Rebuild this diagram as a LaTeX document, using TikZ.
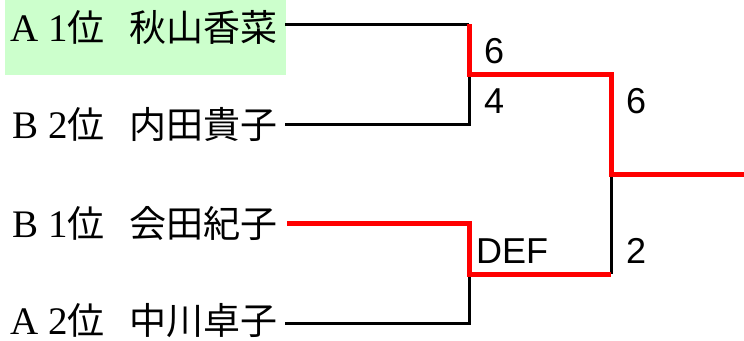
\documentclass[tikz,border=0pt]{standalone}
\usepackage{fontspec}
\setmainfont{Liberation Serif}
\newfontfamily\cjk{Noto Sans CJK JP}
\newfontfamily\scorefamily{Liberation Sans}
\usepackage{tikz}
\definecolor{winred}{RGB}{255,0,0}
\definecolor{seedgreen}{RGB}{204,255,204}
\tikzstyle{player} = [anchor=base east, inner sep=0pt, font=\fontsize{39}{40}\selectfont]
\tikzstyle{score} = [anchor=base west, inner sep=0pt, font=\scorefamily\fontsize{36}{40}\selectfont]
\tikzstyle{line} = [line width=3pt, black]
\tikzstyle{win} = [line width=5pt, winred]
\newcommand{\kanji}{\cjk\fontsize{37}{40}\selectfont}

\begin{document}
\begin{tikzpicture}[x=1pt, y=-1pt]
        \useasboundingbox (0,0) rectangle (744,340);
        \fill [seedgreen] (5,0) rectangle (286,75);

        \node (p1) [player] at (278,41) {A 1\kanji 位\hspace{25pt}秋山香菜};
        \node (p2) [player] at (278,138) {B 2\kanji 位\hspace{25pt}内田貴子};
        \node (p3) [player] at (278,237) {B 1\kanji 位\hspace{25pt}会田紀子};
        \node (p4) [player] at (278,334) {A 2\kanji 位\hspace{25pt}中川卓子};

        \coordinate (t1) at (469,24);
        \coordinate (t2) at (469,124);
        \coordinate (t3) at (469,223);
        \coordinate (t4) at (469,323);
        \coordinate (semi1) at (469,74);
        \coordinate (semi2) at (469,274);
        \coordinate (top) at (611,74);
        \coordinate (bottom) at (611,274);
        \coordinate (final) at (611,174);
        \coordinate (champ) at (744,174);

        \node (s1) [score] at (484,63) {6};
        \node (s2) [score] at (484,113) {4};
        \node (s3) [score] at (476,263) {DEF};
        \node (s4) [score] at (626,113) {6};
        \node (s5) [score] at (626,263) {2};

        \draw [line] ([xshift=7pt]p1.east |- t1) -- (t1);
        \draw [line] ([xshift=7pt]p2.east |- t2) -- (t2) -- (semi1);
        \draw [line] ([xshift=7pt]p4.east |- t4) -- (t4) -- (semi2);
        \draw [line] (bottom) -- (final);
        \draw [win] (t1) -- (semi1) -- (top) -- (final) -- (champ);
        \draw [win] ([xshift=9pt]p3.east |- t3) -- (t3) -- (semi2) -- (bottom);
    \end{tikzpicture}
\end{document}
